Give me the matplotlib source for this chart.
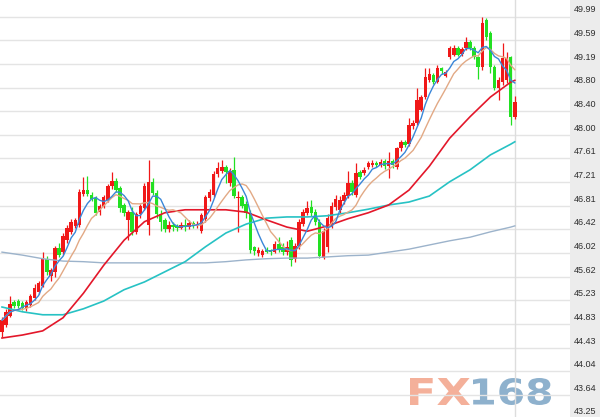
import numpy as np
import pandas as pd
import matplotlib
matplotlib.use('Agg')
import matplotlib.pyplot as plt
from matplotlib.patches import Rectangle, PathPatch
from matplotlib.textpath import TextPath
from matplotlib.font_manager import FontProperties
from matplotlib.transforms import Affine2D

# daily candles, oldest first
opens = [44.70, 44.82, 44.97, 45.20, 45.22, 45.19, 45.10, 45.15, 45.27, 45.37,
         45.47, 45.93, 45.64, 45.71, 46.11, 46.04, 46.24, 46.38, 46.48, 46.50,
         47.02, 47.08, 47.00, 46.95, 46.72, 46.80, 46.91, 47.15, 47.23, 47.12,
         46.83, 46.58, 46.71, 46.38, 46.68, 46.78, 46.50, 47.22, 47.03, 46.68,
         46.58, 46.42, 46.50, 46.48, 46.44, 46.50, 46.46, 46.53, 46.49, 46.40,
         46.60, 46.95, 47.00, 47.35, 47.40, 47.46, 47.20, 47.42, 46.95, 46.97,
         46.85, 46.70, 46.12, 46.03, 46.00, 46.08, 46.07, 46.05, 46.18, 46.12,
         46.05, 46.25, 45.93, 46.15, 46.52, 46.70, 46.80, 46.72, 46.55, 45.95,
         46.12, 46.48, 46.80, 46.75, 46.90, 46.98, 47.20, 47.00, 47.38, 47.36,
         47.47, 47.50, 47.54, 47.50, 47.56, 47.48, 47.56, 47.47, 47.78, 47.88,
         47.85, 48.15, 48.20, 48.43, 48.64, 48.93, 49.01, 48.90, 49.12, 49.00,
         49.31, 49.35, 49.46, 49.36, 49.46, 49.56, 49.46, 49.31, 49.14, 49.93,
         49.71, 49.14, 48.79, 48.89, 48.93, 49.31, 48.31]
highs = [44.95, 45.08, 45.30, 45.24, 45.25, 45.22, 45.23, 45.34, 45.50, 45.56,
         46.05, 45.98, 45.78, 46.15, 46.20, 46.36, 46.50, 46.60, 46.62, 47.10,
         47.30, 47.32, 47.04, 46.98, 46.85, 47.00, 47.18, 47.38, 47.28, 47.15,
         46.86, 46.75, 46.80, 46.72, 46.85, 47.20, 47.58, 47.28, 47.08, 46.75,
         46.62, 46.56, 46.55, 46.52, 46.55, 46.60, 46.58, 46.56, 46.56, 46.70,
         47.00, 47.10, 47.40, 47.55, 47.58, 47.50, 47.45, 47.63, 47.06, 47.00,
         46.90, 46.75, 46.15, 46.12, 46.10, 46.12, 46.10, 46.22, 46.30, 46.20,
         46.22, 46.30, 46.20, 46.60, 46.76, 46.90, 46.92, 46.76, 46.60, 46.45,
         46.68, 46.88, 47.00, 46.98, 47.05, 47.40, 47.25, 47.53, 47.42, 47.46,
         47.56, 47.58, 47.57, 47.60, 47.60, 47.72, 47.60, 47.80, 47.92, 47.92,
         48.29, 48.25, 48.80, 48.68, 49.13, 49.13, 49.05, 49.18, 49.15, 49.10,
         49.50, 49.52, 49.50, 49.48, 49.65, 49.60, 49.49, 49.33, 49.98, 49.96,
         49.75, 49.18, 48.98, 49.55, 49.40, 49.33, 48.65]
lows = [44.62, 44.78, 44.95, 45.10, 45.10, 45.07, 45.06, 45.12, 45.24, 45.33,
        45.45, 45.65, 45.55, 45.62, 45.96, 46.00, 46.20, 46.35, 46.44, 46.46,
        46.98, 46.98, 46.90, 46.66, 46.66, 46.78, 46.88, 47.10, 47.04, 46.72,
        46.65, 46.25, 46.33, 46.35, 46.62, 46.74, 46.32, 47.00, 46.62, 46.40,
        46.38, 46.38, 46.40, 46.40, 46.42, 46.40, 46.42, 46.45, 46.45, 46.36,
        46.55, 46.90, 46.97, 47.30, 47.36, 47.20, 47.15, 46.95, 46.38, 46.78,
        46.62, 46.02, 46.00, 45.98, 45.96, 46.02, 46.00, 46.02, 46.05, 46.00,
        46.00, 45.80, 45.88, 46.10, 46.48, 46.66, 46.65, 46.50, 45.95, 45.93,
        46.05, 46.45, 46.75, 46.70, 46.85, 46.95, 47.00, 46.96, 47.26, 47.33,
        47.44, 47.47, 47.46, 47.47, 47.44, 47.28, 47.45, 47.44, 47.74, 47.80,
        47.82, 48.10, 48.17, 48.40, 48.60, 48.90, 48.86, 48.87, 49.03, 48.97,
        49.28, 49.32, 49.32, 49.33, 49.43, 49.43, 49.28, 48.95, 49.10, 49.60,
        49.05, 48.75, 48.59, 48.85, 48.88, 48.17, 48.28]
closes = [44.90, 45.04, 45.17, 45.14, 45.14, 45.10, 45.20, 45.30, 45.44, 45.52,
          45.93, 45.70, 45.74, 46.11, 45.99, 46.31, 46.44, 46.55, 46.58, 47.05,
          47.08, 47.02, 46.93, 46.70, 46.82, 46.97, 47.15, 47.23, 47.08, 46.78,
          46.70, 46.71, 46.38, 46.68, 46.81, 47.15, 47.22, 47.03, 46.68, 46.55,
          46.42, 46.50, 46.46, 46.44, 46.50, 46.46, 46.53, 46.49, 46.52, 46.66,
          46.97, 47.05, 47.35, 47.45, 47.46, 47.38, 47.40, 46.98, 46.97, 46.82,
          46.70, 46.08, 46.06, 46.08, 46.06, 46.05, 46.04, 46.18, 46.10, 46.05,
          46.12, 45.90, 46.15, 46.55, 46.72, 46.78, 46.70, 46.55, 45.98, 46.40,
          46.62, 46.82, 46.93, 46.92, 47.00, 47.20, 47.05, 47.37, 47.30, 47.42,
          47.53, 47.54, 47.50, 47.55, 47.48, 47.56, 47.50, 47.78, 47.88, 47.84,
          48.17, 48.20, 48.59, 48.64, 48.98, 49.02, 48.90, 49.13, 49.07, 49.06,
          49.46, 49.46, 49.35, 49.44, 49.56, 49.46, 49.31, 49.14, 49.88, 49.65,
          49.14, 48.79, 48.93, 49.29, 49.29, 48.31, 48.56]

# longer moving averages at every 5th candle
ma_idx = [0, 5, 10, 15, 20, 25, 30, 35, 40, 45, 50, 55, 60, 65, 70, 75, 80,
          85, 90, 95, 100, 105, 110, 115, 120, 125, 126]
ma_red = [44.60, 44.65, 44.72, 44.94, 45.35, 45.82, 46.24, 46.55, 46.70, 46.75,
          46.75, 46.75, 46.71, 46.58, 46.46, 46.39, 46.48, 46.60, 46.70, 46.83,
          47.08, 47.48, 47.95, 48.31, 48.64, 48.89, 48.92]
ma_cyan = [45.12, 45.04, 44.99, 44.99, 45.09, 45.22, 45.41, 45.54, 45.71, 45.88,
           46.13, 46.36, 46.51, 46.61, 46.63, 46.63, 46.65, 46.70, 46.76, 46.83,
           46.88, 46.98, 47.22, 47.42, 47.67, 47.85, 47.89]
ma_gray = [46.04, 45.99, 45.93, 45.89, 45.88, 45.86, 45.86, 45.86, 45.86, 45.86,
           45.86, 45.88, 45.91, 45.93, 45.94, 45.94, 45.96, 45.98, 45.99, 46.04,
           46.09, 46.16, 46.23, 46.29, 46.38, 46.46, 46.48]

price_labels = ['49.99', '49.59', '49.19', '48.80', '48.40', '48.00', '47.61',
                '47.21', '46.81', '46.42', '46.02', '45.62', '45.23', '44.83',
                '44.43', '44.04', '43.64', '43.25']

up_col = '#f01818'
down_col = '#22e022'

df = pd.DataFrame({'o': opens, 'h': highs, 'l': lows, 'c': closes})
x = np.arange(len(df))
ma5 = df['c'].rolling(5, min_periods=1).mean()
ma10 = df['c'].rolling(10, min_periods=1).mean()

W, H = 600, 417
fig = plt.figure(figsize=(6, 4.17), dpi=100)
fig.patches.append(Rectangle((570 / W, 0), 30 / W, 1, transform=fig.transFigure,
                             facecolor='#ececec', edgecolor='none', zorder=-5))
ax = fig.add_axes([0, 0, 570 / W, 1])
ax.set_xlim(-0.49, 139.56)
ax.set_ylim(43.276, 50.267)
ax.axis('off')

for lbl in price_labels:
    v = float(lbl)
    ax.axhline(v, color='#e4e4e4', lw=1, zorder=1)
    ax.annotate(lbl, xy=(1, v), xycoords=('axes fraction', 'data'),
                xytext=(2.5, 3), textcoords='offset points', ha='left', va='baseline',
                fontsize=6.5, family='Liberation Sans', color='#2e2e2e',
                annotation_clip=False, zorder=10)
ax.axvline(x[-1], color='#dddddd', lw=1, zorder=1)

# FX168 watermark, stretched to the logo box (pixel coords)
fp = FontProperties(family='DejaVu Sans', weight='bold')
for txt, x0, x1, col in [('FX', 410, 470, '#f4b09a'), ('168', 473, 551, '#8eb1cd')]:
    tp = TextPath((0, 0), txt, size=10, prop=fp)
    ext = tp.get_extents()
    tr = (Affine2D().translate(-ext.x0, -ext.y0)
          .scale((x1 - x0) / ext.width, 27 / ext.height)
          .translate(x0, H - 405)
          .scale(1 / W, 1 / H)) + fig.transFigure
    ax.add_patch(PathPatch(tp, transform=tr, facecolor=col, edgecolor='none',
                           zorder=0.5, clip_on=False))

up = df['c'] >= df['o']
colors = np.where(up, up_col, down_col)
body_lo = np.minimum(df['o'], df['c'])
body_h = np.maximum((df['c'] - df['o']).abs(), 0.017)
ax.vlines(x, df['l'], df['h'], colors=colors, lw=0.9, zorder=3)
ax.bar(x, body_h, bottom=body_lo, width=0.86, color=colors, lw=0, zorder=4)

ax.plot(ma_idx, ma_gray, color='#9cb3cb', lw=1, zorder=5)
ax.plot(ma_idx, ma_cyan, color='#27c2c4', lw=1.2, zorder=5)
ax.plot(ma_idx, ma_red, color='#e3172a', lw=1.2, zorder=5)
ax.plot(x, ma10, color='#e2a985', lw=1, zorder=6)
ax.plot(x, ma5, color='#3a86d8', lw=1, zorder=6)

fig.savefig('out.png', dpi=100)
